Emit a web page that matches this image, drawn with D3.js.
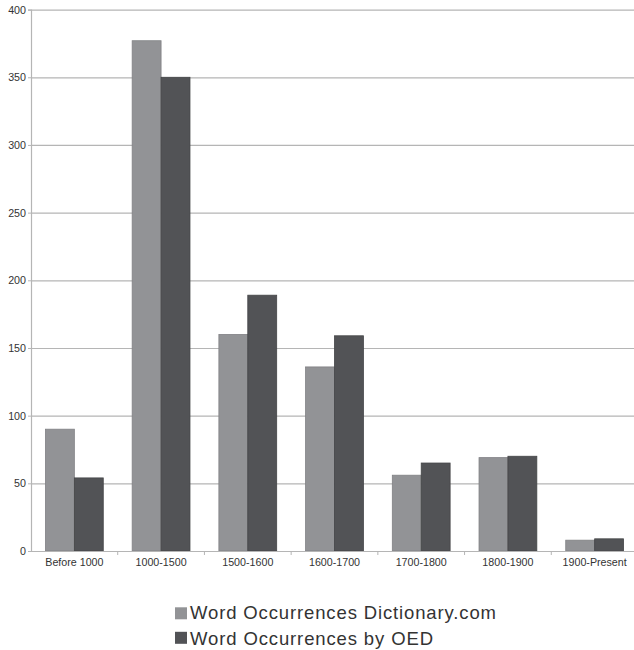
<!DOCTYPE html>
<html>
<head>
<meta charset="utf-8">
<script src="https://cdn.jsdelivr.net/npm/d3@7"></script>
<style>
  html, body { margin: 0; padding: 0; background: #fff; }
  svg { display: block; font-family: "Liberation Sans", Arial, sans-serif; }
</style>
</head>
<body>
<svg id="chart" width="634" height="650"></svg>
<script>
// Word origin periods and counts from two sources
const periods = ["Before 1000", "1000-1500", "1500-1600", "1600-1700", "1700-1800", "1800-1900", "1900-Present"];
const dictionaryCom = [90, 377, 160, 136, 56, 69, 8];
const oed = [54, 350, 189, 159, 65, 70, 9];
const seriesNames = ["Word Occurrences Dictionary.com", "Word Occurrences by OED"];
const yTicks = [0, 50, 100, 150, 200, 250, 300, 350, 400];

const colors = ["#929396", "#525356"];
const outlines = ["#808184", "#444547"];

const svg = d3.select("#chart");
const plotLeft = 31, plotRight = 638, plotTop = 9.6, plotBottom = 551;

const x = d3.scaleBand().domain(periods).range([plotLeft, plotRight]).paddingInner(0).paddingOuter(0);
const inner = d3.scaleBand().domain([0, 1]).range([0, x.bandwidth()]).paddingOuter(0.5).paddingInner(0);
const y = d3.scaleLinear().domain([0, 400]).range([plotBottom, plotTop]);

// horizontal gridlines
svg.append("g")
  .selectAll("line")
  .data(yTicks.slice(1))
  .join("line")
  .attr("x1", plotLeft).attr("x2", 634)
  .attr("y1", d => y(d) + 0.5).attr("y2", d => y(d) + 0.5)
  .attr("stroke", "#b5b5b5").attr("stroke-width", 1.2);

// bars
const rows = periods.map((p, i) => ({ p, vals: [dictionaryCom[i], oed[i]] }));
const groups = svg.append("g").selectAll("g")
  .data(rows).join("g")
  .attr("transform", d => `translate(${x(d.p)},0)`);
groups.selectAll("rect")
  .data(d => d.vals.map((v, k) => ({ v, k })))
  .join("rect")
  .attr("x", d => inner(d.k))
  .attr("width", inner.bandwidth())
  .attr("y", d => y(d.v))
  .attr("height", d => y(0) - y(d.v))
  .attr("fill", d => colors[d.k])
  .attr("stroke", d => outlines[d.k])
  .attr("stroke-width", 0.8);

// y axis
const yAxis = svg.append("g")
  .attr("transform", `translate(${plotLeft},0)`)
  .call(d3.axisLeft(y).tickValues(yTicks).tickSize(3).tickPadding(2));
yAxis.select(".domain").attr("stroke", "#b5b5b5").attr("stroke-width", 1.2);
yAxis.selectAll(".tick line").attr("stroke", "#b5b5b5");
yAxis.selectAll("text").attr("font-size", 10.7).attr("fill", "#333")
  .attr("font-family", "Liberation Sans, Arial, sans-serif");

// x axis, ticks at band boundaries
const xAxis = svg.append("g")
  .attr("transform", `translate(0,${plotBottom})`)
  .call(d3.axisBottom(x).tickSize(0).tickPadding(7));
xAxis.select(".domain").remove();
xAxis.append("line")
  .attr("x1", plotLeft - 3).attr("x2", 634).attr("y1", 0.5).attr("y2", 0.5)
  .attr("stroke", "#b5b5b5").attr("stroke-width", 1.2);
xAxis.selectAll(".boundary")
  .data(periods.slice(1))
  .join("line")
  .attr("class", "boundary")
  .attr("x1", d => x(d)).attr("x2", d => x(d))
  .attr("y1", 0).attr("y2", 4)
  .attr("stroke", "#b5b5b5");
xAxis.selectAll("text").attr("font-size", 10.7).attr("fill", "#333")
  .attr("font-family", "Liberation Sans, Arial, sans-serif");

// legend
const legendRows = [
  { sq: 607.3, base: 618.8, len: 306 },
  { sq: 631.8, base: 644.6, len: 243 }
];
const items = svg.append("g").selectAll("g").data(seriesNames).join("g");
items.append("rect")
  .attr("x", 175).attr("y", (d, i) => legendRows[i].sq)
  .attr("width", 12).attr("height", 12)
  .attr("fill", (d, i) => colors[i]);
items.append("text")
  .attr("x", 190).attr("y", (d, i) => legendRows[i].base)
  .attr("font-size", 18.5).attr("fill", "#333")
  .attr("textLength", (d, i) => legendRows[i].len)
  .attr("lengthAdjust", "spacing")
  .text(d => d);
</script>
</body>
</html>
